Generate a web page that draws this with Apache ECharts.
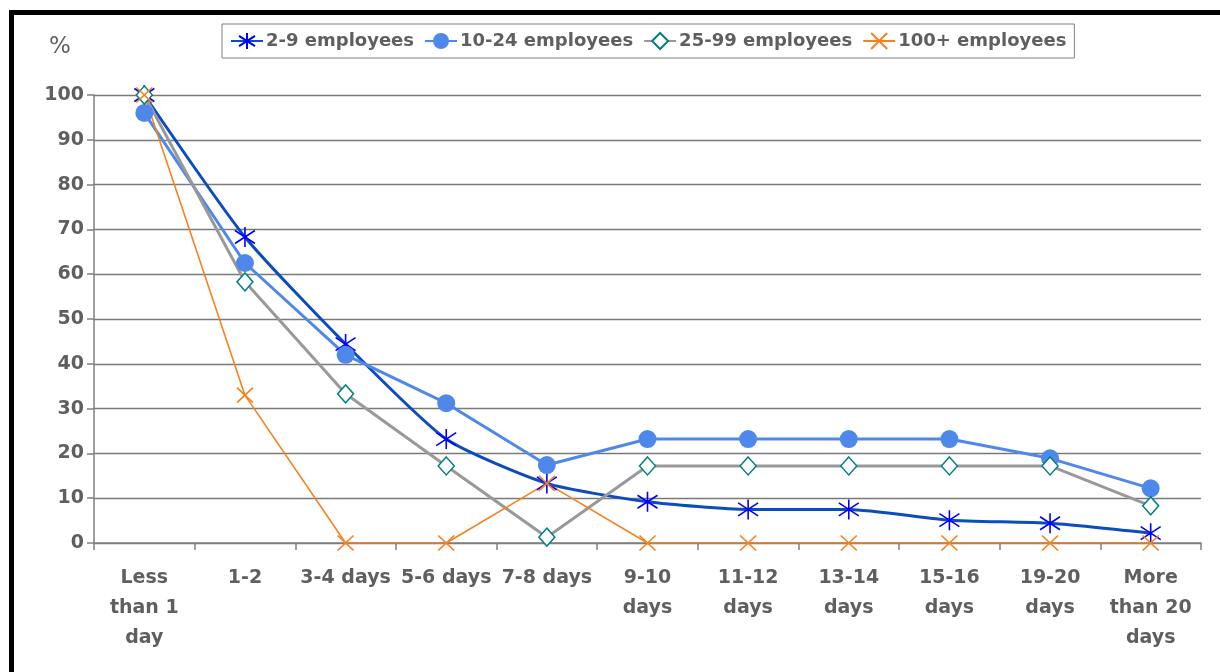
<!DOCTYPE html>
<html>
<head>
<meta charset="utf-8">
<script src="https://cdn.jsdelivr.net/npm/echarts@6/dist/echarts.min.js"></script>
<style>
html,body{margin:0;padding:0;background:#fff;}
#c{width:1220px;height:672px;}
</style>
</head>
<body>
<div id="c"></div>
<script>
const categories = ["Less\nthan 1\nday","1-2","3-4 days","5-6 days","7-8 days","9-10\ndays","11-12\ndays","13-14\ndays","15-16\ndays","19-20\ndays","More\nthan 20\ndays"];
const seriesNames = ["2-9 employees","10-24 employees","25-99 employees","100+ employees"];
const emp2to9 = [100, 68.3, 44.4, 23.2, 13.3, 9.2, 7.5, 7.5, 5.1, 4.4, 2.2];
const emp10to24 = [96, 62.5, 42.0, 31.2, 17.4, 23.2, 23.2, 23.2, 23.2, 18.9, 12.2];
const emp25to99 = [100, 58.3, 33.3, 17.2, 1.3, 17.2, 17.2, 17.2, 17.2, 17.2, 8.3];
const emp100plus = [100, 33.0, 0, 0, 13.3, 0, 0, 0, 0, 0, 0];
const yTicks = {min: 0, max: 100, interval: 10};

const font = "DejaVu Sans";
const txt = "#5f5f5f";
const chart = echarts.init(document.getElementById('c'));
chart.setOption({
  animation: false,
  backgroundColor: '#fff',
  grid: {left: 94, right: 19, top: 95, bottom: 129, containLabel: false},
  legend: {
    left: 222, top: 24,
    padding: [8, 8, 8, 8],
    borderColor: '#808080', borderWidth: 1,
    itemWidth: 32, itemHeight: 20, itemGap: 10,
    textStyle: {fontFamily: font, fontWeight: 'bold', fontSize: 18, color: txt, padding: [0,0,0,-2]},
    data: seriesNames
  },
  graphic: [
    {type: 'text', left: 49, top: 36, style: {text: '%', fontFamily: font, fontSize: 23, fill: txt}},
    {type: 'rect', shape: {x: 11.5, y: 12.5, width: 1400, height: 900}, style: {fill: 'none', stroke: '#000', lineWidth: 5}, z: 100}
  ],
  xAxis: {
    type: 'category', data: categories, boundaryGap: true,
    axisLine: {lineStyle: {color: '#808080', width: 1.5}},
    axisTick: {show: true, length: 7, lineStyle: {color: '#808080', width: 1.5}},
    axisLabel: {interval: 0, fontFamily: font, fontWeight: 'bold', fontSize: 19, color: txt, lineHeight: 30, margin: 20}
  },
  yAxis: {
    type: 'value', min: yTicks.min, max: yTicks.max, interval: yTicks.interval,
    axisLine: {show: true, lineStyle: {color: '#808080', width: 1.5}},
    axisTick: {show: true, length: 7, lineStyle: {color: '#808080', width: 1.5}},
    splitLine: {lineStyle: {color: '#7a7a7a', width: 1.3}},
    axisLabel: {fontFamily: font, fontWeight: 'bold', fontSize: 19, color: txt, margin: 10}
  },
  series: [
    {
      name: seriesNames[0], type: 'line', data: emp2to9, smooth: 0.2,
      symbol: 'path://M10,0 L10,20 M1,3.5 L19,16.5 M19,3.5 L1,16.5', symbolSize: 20,
      lineStyle: {color: '#0d4cbd', width: 3},
      itemStyle: {color: 'rgba(0,0,0,0)', borderColor: '#0000ff', borderWidth: 1.6}
    },
    {
      name: seriesNames[1], type: 'line', data: emp10to24,
      symbol: 'circle', symbolSize: 18,
      lineStyle: {color: '#4f88eb', width: 3},
      itemStyle: {color: '#4f88eb'}
    },
    {
      name: seriesNames[2], type: 'line', data: emp25to99,
      symbol: 'diamond', symbolSize: [16, 18],
      lineStyle: {color: '#999999', width: 3},
      itemStyle: {color: '#ffffff', borderColor: '#008080', borderWidth: 1.5}
    },
    {
      name: seriesNames[3], type: 'line', data: emp100plus,
      symbol: 'path://M0,0 L16,15 M16,0 L0,15', symbolSize: [16, 15],
      lineStyle: {color: '#f5821f', width: 1.6},
      itemStyle: {color: 'rgba(0,0,0,0)', borderColor: '#f5821f', borderWidth: 1.6}
    }
  ]
});
</script>
</body>
</html>
